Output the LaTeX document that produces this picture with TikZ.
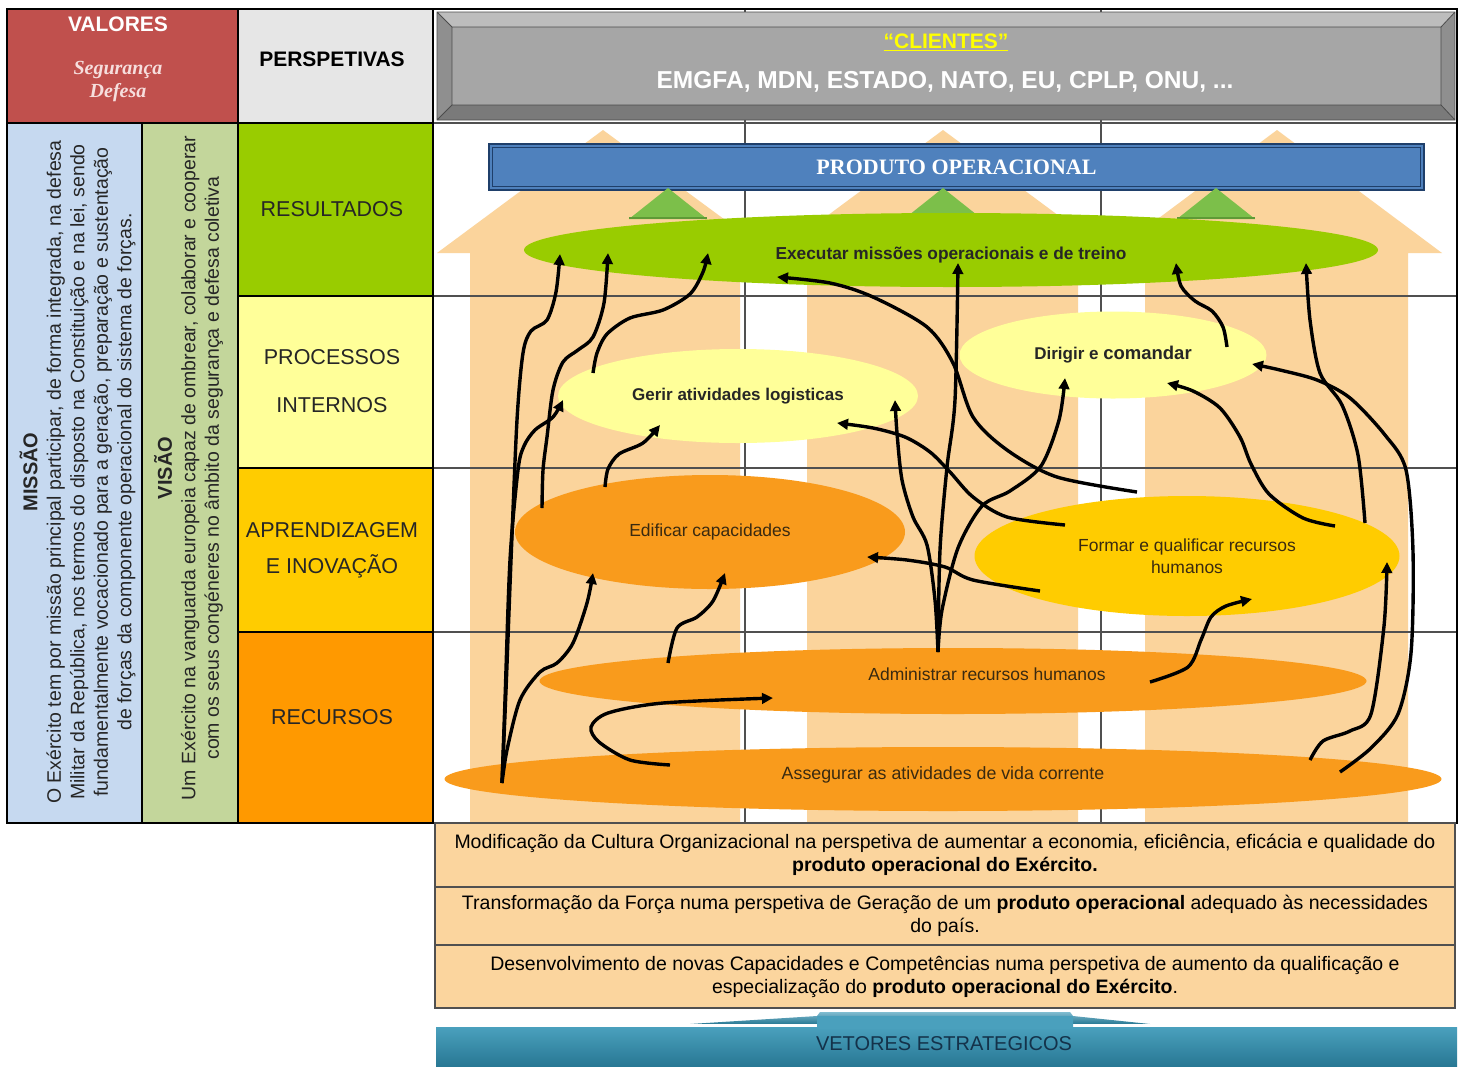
\documentclass[tikz,border=0pt]{standalone}
\usepackage{fontspec}
\setmainfont{Liberation Sans}
\newfontfamily\bookfont{Liberation Serif}
\usetikzlibrary{shapes.geometric,arrows.meta,calc}

\definecolor{valred}{HTML}{C0504D}
\definecolor{valsub}{HTML}{F6DEDD}
\definecolor{perspgray}{HTML}{E6E6E6}
\definecolor{missblue}{HTML}{C6D9F0}
\definecolor{visgreen}{HTML}{C3D69B}
\definecolor{resgreen}{HTML}{99CC00}
\definecolor{procyel}{HTML}{FFFF99}
\definecolor{aprgold}{HTML}{FFCC00}
\definecolor{recorange}{HTML}{FF9900}
\definecolor{shaft}{HTML}{FBD49C}
\definecolor{ovorange}{HTML}{F99B1C}
\definecolor{ovlight}{HTML}{FFFF99}
\definecolor{ovgold}{HTML}{FFCC00}
\definecolor{ovgreen}{HTML}{99CC00}
\definecolor{tri}{HTML}{7CBF4A}
\definecolor{tridark}{HTML}{5E9A36}
\definecolor{barface}{HTML}{4F81BD}
\definecolor{baredge}{HTML}{1F3F6A}
\definecolor{bannerface}{HTML}{A6A6A6}
\definecolor{bannertop}{HTML}{BDBDBD}
\definecolor{bannerside}{HTML}{8F8F8F}
\definecolor{bannerbot}{HTML}{7A7A7A}
\definecolor{cliyellow}{HTML}{FFFF00}
\definecolor{labeltext}{HTML}{262626}
\definecolor{ovaltext}{HTML}{3A2A10}
\definecolor{boxfill}{HTML}{FBD59E}
\definecolor{vettop}{HTML}{4AA0BD}
\definecolor{vetbot}{HTML}{287894}
\definecolor{vettext}{HTML}{14324A}
\definecolor{gridline}{HTML}{505050}

\begin{document}
\begin{tikzpicture}[x=1pt,y=-1pt,
  tab/.style={draw=black, line width=1.3pt},
  grid/.style={draw=gridline, line width=1.1pt},
  rowlabel/.style={font=\fontsize{21.5}{24}\selectfont, text=labeltext, align=center},
  oval/.style={ellipse, inner sep=0pt, draw=none},
  ovaltxt/.style={font=\fontsize{17.5}{22}\selectfont, text=ovaltext, align=center},
  flow/.style={line width=3.4pt, -{Triangle[length=11pt,width=10.5pt]}, line join=round},
  vbox/.style={draw=gridline, line width=1.1pt, fill=boxfill, minimum width=1020pt,
    inner sep=0pt, align=center, font=\fontsize{19.5}{23}\selectfont, text=black},
  coltext/.style={rotate=90, align=center, text=labeltext, font=\fontsize{19.5}{23.5}\selectfont}
]

\useasboundingbox (0,0) rectangle (1464,1066);
\fill[white] (0,0) rectangle (1464,1066);

% ---- three broad upward arrows behind the map ----
\fill[shaft] (470,823) -- (470,253) -- (437,253) -- (603,130) -- (770,253) -- (740,253) -- (740,823) -- cycle;
\fill[shaft] (807,823) -- (807,253) -- (777,253) -- (943,130) -- (1109,253) -- (1078,253) -- (1078,823) -- cycle;
\fill[shaft] (1145,823) -- (1145,253) -- (1112,253) -- (1277,130) -- (1442,253) -- (1408,253) -- (1408,823) -- cycle;

% ---- grid of the map area ----
\draw[grid] (745,9) -- (745,823);
\draw[grid] (1101,9) -- (1101,823);
\draw[grid] (433,123) -- (1457,123);
\draw[grid] (433,296) -- (1457,296);
\draw[grid] (433,468) -- (1457,468);
\draw[grid] (433,632) -- (1457,632);

% ---- clients banner ----
\fill[bannerside] (437,12) rectangle (1455,120);
\fill[bannertop] (437,12) -- (1455,12) -- (1441,27) -- (452,27) -- cycle;
\fill[bannerbot] (437,120) -- (1455,120) -- (1441,105) -- (452,105) -- cycle;
\fill[bannerface] (452,27) rectangle (1441,105);
\draw[black!70, line width=0.8pt] (437,12) rectangle (1455,120) (452,27) rectangle (1441,105)
  (437,12) -- (452,27) (1455,12) -- (1441,27) (437,120) -- (452,105) (1455,120) -- (1441,105);
\node[font=\bfseries\fontsize{21}{24}\selectfont, text=cliyellow] (clientes) at (946,42) {\underline{“CLIENTES”}};
\node[font=\bfseries\fontsize{24.5}{26}\selectfont, text=white] (membros) at (945,82) {EMGFA, MDN, ESTADO, NATO, EU, CPLP, ONU, ...};

% ---- operational product bar ----
\node[draw=baredge, line width=2.2pt, fill=barface, minimum width=935pt, minimum height=46pt,
  inner sep=0pt, font=\bookfont\bfseries\fontsize{22}{24}\selectfont, text=white] (produto) at (956.5,167) {PRODUTO OPERACIONAL};
\draw[baredge, line width=0.9pt] ([shift={(5,5)}]produto.north west) rectangle ([shift={(-5,-5)}]produto.south east);

% ---- small green triangles under the bar ----
\foreach \cx in {668,943,1216} {
  \fill[tri] (\cx-39,219) -- (\cx,188) -- (\cx+39,219) -- cycle;
  \draw[tridark, line width=2pt] (\cx-39,218) -- (\cx+39,218);
}

% ---- objectives ----
\node[oval, fill=ovgreen, minimum width=854pt, minimum height=74pt] (exe) at (951,250) {};
\node[font=\bfseries\fontsize{17.3}{20}\selectfont, text=black!85] (exetxt) at ([shift={(0,5)}]exe.center) {Executar missões operacionais e de treino};
\node[oval, fill=ovlight, minimum width=360pt, minimum height=94pt,
  font=\bfseries\fontsize{17}{20}\selectfont, text=black!85] (ger) at (738,396) {Gerir atividades logisticas};
\node[oval, fill=ovlight, minimum width=307pt, minimum height=87pt,
  font=\bfseries\fontsize{17}{20}\selectfont, text=black!85] (dir) at (1113,355) {Dirigir e {\fontsize{18.5}{20}\selectfont comandar}};
\node[oval, fill=ovorange, minimum width=390pt, minimum height=114pt, ovaltxt] (edi) at (710,532) {Edificar capacidades};
\node[oval, fill=ovgold, minimum width=425pt, minimum height=120pt, ovaltxt] (for) at (1187,556) {Formar e qualificar recursos\\humanos};
\node[oval, fill=ovorange, minimum width=827pt, minimum height=66pt] (adm) at (953,681) {};
\node[ovaltxt] (admtxt) at ([shift={(34,-7)}]adm.center) {Administrar recursos humanos};
\node[oval, fill=ovorange, minimum width=997pt, minimum height=64pt] (ass) at (943,779) {};
\node[ovaltxt, font=\fontsize{17.8}{22}\selectfont] (asstxt) at ([shift={(0,-4)}]ass.center) {Assegurar as atividades de vida corrente};

% ---- links between objectives ----
\coordinate (o1) at ([shift={(-441,4)}]ass.center);
\coordinate (o2) at ([shift={(-15,-29)}]adm.center);

\draw[flow] plot[smooth] coordinates {(o1) (506,690) (511,560) (517,420) (523,353) (531,331) (547,320) (556,292) ([shift={(-391,4)}]exe.center)};
\draw[flow] plot[smooth] coordinates {(o1) (505,700) (510,560) (518,470) (524,446) (535,430) (553,417) ([shift={(-175,4)}]ger.center)};
\draw[flow] plot[smooth] coordinates {(o1) (507,750) (520,700) (540,672) (557,663) (573,643) (587,603) ([shift={(-117,41)}]edi.center)};
\draw[flow] plot[smooth] coordinates {([shift={(-168,-24)}]edi.center) (543,470) (547,437) (553,390) (563,362) (578,350) (593,337) (604,303) ([shift={(-343,3)}]exe.center)};
\draw[flow] plot[smooth] coordinates {([shift={(-145,-23)}]ger.center) (597,353) (607,334) (630,318) (663,310) (690,294) (703,272) ([shift={(-243,3)}]exe.center)};
\draw[flow] plot[smooth] coordinates {([shift={(-105,-45)}]edi.center) (608,469) (619,454) (643,443) ([shift={(-78,29)}]ger.center)};
\draw[flow] plot[smooth] coordinates {([shift={(-285,-18)}]adm.center) (677,628) (697,617) (713,601) ([shift={(15,41)}]edi.center)};
\draw[flow] plot[smooth] coordinates {([shift={(-273,-14)}]ass.center) (630,760) (599,742) (591,727) (608,713) (663,703) ([shift={(-180,17)}]adm.center)};

\draw[flow] plot[smooth] coordinates {(o2) (940,550) (947,467) (955,400) ([shift={(7,13)}]exe.center)};
\draw[flow] plot[smooth] coordinates {(o2) (935,600) (927,545) (913,517) (902,480) (897,433) ([shift={(157,4)}]ger.center)};
\draw[flow] plot[smooth] coordinates {(o2) (942,610) (958,548) (982,506) (1010,491) (1041,466) (1059,420) ([shift={(-48,23)}]dir.center)};
\draw[flow] plot[smooth] coordinates {([shift={(-147,35)}]for.center) (973,580) (945,567) (907,560) ([shift={(157,25)}]edi.center)};
\draw[flow] plot[smooth] coordinates {([shift={(-122,-31)}]for.center) (1007,517) (973,497) (950,472) (930,452) (905,437) (873,428) ([shift={(99,27)}]ger.center)};
\draw[flow] plot[smooth] coordinates {([shift={(-50,-64)}]for.center) (1057,477) (1007,450) (973,417) (953,363) (927,327) (873,297) (830,283) ([shift={(-174,27)}]exe.center)};
\draw[flow] plot[smooth] coordinates {([shift={(114,-8)}]dir.center) (1223,327) (1212,311) (1195,301) (1181,286) ([shift={(225,13)}]exe.center)};
\draw[flow] plot[smooth] coordinates {([shift={(178,-33)}]for.center) (1358,455) (1342,405) (1320,373) (1310,320) ([shift={(355,13)}]exe.center)};
\draw[flow] plot[smooth] coordinates {([shift={(148,-30)}]for.center) (1303,518) (1269,494) (1251,464) (1240,437) (1220,408) (1193,391) ([shift={(54,28)}]dir.center)};
\draw[flow] plot[smooth] coordinates {([shift={(397,-7)}]ass.center) (1371,748) (1398,714) (1411,653) (1413,552) (1406,470) (1385,435) (1350,398) (1317,380) (1280,370) ([shift={(139,9)}]dir.center)};
\draw[flow] plot[smooth] coordinates {([shift={(367,-19)}]ass.center) (1323,741) (1350,731) (1371,714) (1384,626) ([shift={(200,6)}]for.center)};
\draw[flow] plot[smooth] coordinates {([shift={(197,1)}]adm.center) (1188,667) (1201,640) (1211,617) (1226,606) ([shift={(65,43)}]for.center)};

% ---- left-hand table ----
\fill[valred] (7,9) rectangle (238,123);
\fill[perspgray] (238,9) rectangle (433,123);
\fill[missblue] (7,123) rectangle (142,823);
\fill[visgreen] (142,123) rectangle (238,823);
\fill[resgreen] (238,123) rectangle (433,296);
\fill[procyel] (238,296) rectangle (433,468);
\fill[aprgold] (238,468) rectangle (433,632);
\fill[recorange] (238,632) rectangle (433,823);

\draw[tab] (7,9) rectangle (1457,823);
\draw[tab] (7,123) -- (433,123);
\draw[tab] (142,123) -- (142,823);
\draw[tab] (238,9) -- (238,823);
\draw[tab] (433,9) -- (433,823);
\draw[tab] (238,296) -- (433,296) (238,468) -- (433,468) (238,632) -- (433,632);

\node[font=\bfseries\fontsize{21}{24}\selectfont, text=white] (valores) at (118,24) {VALORES};
\node[font=\bookfont\bfseries\itshape\fontsize{20}{23}\selectfont, text=valsub, align=center] (valsubt) at (118,82) {Segurança\\Defesa};
\node[font=\bfseries\fontsize{21}{24}\selectfont, text=black] (persp) at (332,59) {PERSPETIVAS};
\node[rowlabel] (resul) at (332,209) {RESULTADOS};
\node[rowlabel, font=\fontsize{21.5}{48}\selectfont] (proc) at (332,381) {PROCESSOS\\INTERNOS};
\node[rowlabel, font=\fontsize{21.5}{36}\selectfont] (aprend) at (332,550) {APRENDIZAGEM\\E INOVAÇÃO};
\node[rowlabel] (recur) at (332,717) {RECURSOS};

\node[coltext] (missao) at (77.5,472) {{\bfseries\fontsize{20}{25}\selectfont MISSÃO}\\
  O Exército tem por missão principal participar, de forma integrada, na defesa\\
  Militar da República, nos termos do disposto na Constituição e na lei, sendo\\
  fundamentalmente vocacionado para a geração, preparação e sustentação\\
  de forças da componente operacional do sistema de forças.};
\node[coltext] (visao) at (188.5,468) {{\bfseries\fontsize{20}{24}\selectfont VISÃO}\\
  Um Exército na vanguarda europeia capaz de ombrear, colaborar e cooperar\\
  com os seus congéneres no âmbito da segurança e defesa coletiva};

% ---- strategic vectors ----
\node[vbox, minimum height=64pt] (vec1) at (945,855) {Modificação da Cultura Organizacional na perspetiva de aumentar a economia, eficiência, eficácia e qualidade do\\ \textbf{produto operacional do Exército.}};
\node[vbox, minimum height=58pt] (vec2) at (945,916) {Transformação da Força numa perspetiva de Geração de um \textbf{produto operacional} adequado às necessidades\\ do país.};
\node[vbox, minimum height=63pt] (vec3) at (945,976.5) {Desenvolvimento de novas Capacidades e Competências numa perspetiva de aumento da qualificação e\\ especialização do \textbf{produto operacional do Exército}.};

\shade[top color=vettop!70!white, bottom color=vetbot] (690,1024) -- (817,1016) -- (820,1012) -- (1070,1012) -- (1073,1016) -- (1150,1024) -- cycle;
\fill[white] (690,1024) rectangle (817,1027) (1073,1024) rectangle (1150,1027);
\shade[top color=vettop, bottom color=vetbot] (436,1027) rectangle (1457,1066);
\shade[top color=vettop, bottom color=vettop] (817,1016) rectangle (1073,1028);
\node[font=\fontsize{20}{22}\selectfont, text=vettext] (vetores) at (944,1044) {VETORES ESTRATEGICOS};

\end{tikzpicture}
\end{document}
